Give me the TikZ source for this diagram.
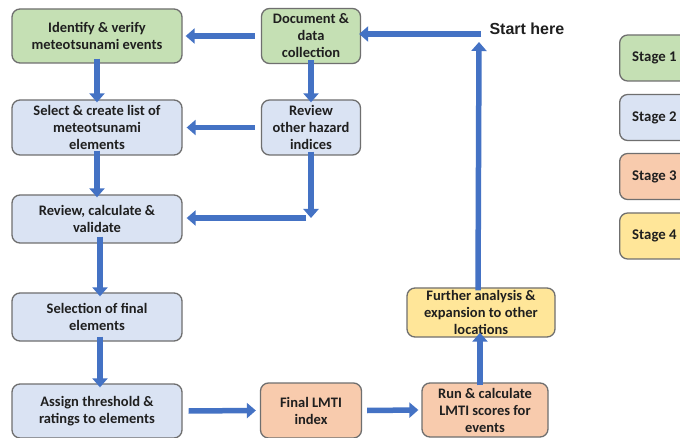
\documentclass[tikz,border=0pt]{standalone}
\usepackage{fontspec}
\setmainfont{Carlito}
\newfontfamily\arialb{Liberation Sans}
\usetikzlibrary{arrows.meta}
\definecolor{arrowblue}{HTML}{4472C4}
\definecolor{fgreen}{HTML}{C5E0B4}
\definecolor{fblue}{HTML}{DAE3F3}
\definecolor{forange}{HTML}{F8CBAD}
\definecolor{fyellow}{HTML}{FFE699}
\definecolor{bordergray}{HTML}{6F6F6F}
\tikzset{
  box/.style={draw=bordergray, line width=1.3pt, rounded corners=8pt, align=center,
    font=\fontsize{14.5}{17}\selectfont\bfseries, text=black!88, inner sep=1pt},
  greenbox/.style={box, fill=fgreen},
  bluebox/.style={box, fill=fblue},
  orangebox/.style={box, fill=forange},
  yellowbox/.style={box, fill=fyellow},
  legendbox/.style={draw=bordergray, line width=1.3pt, rounded corners=8pt,
    minimum width=75pt, minimum height=46pt},
  flow/.style={draw=arrowblue, line width=5.5pt,
    -{Triangle[width=15pt,length=9pt]}, shorten >=0pt}
}
\begin{document}
\begin{tikzpicture}[x=1pt, y=-1pt]
\clip (0,0) rectangle (680,438);
\fill[white] (0,0) rectangle (680,438);
% Stage 1
\node[greenbox, minimum width=170pt, minimum height=54pt] (ident) at (97,36) {Identify \& verify\\meteotsunami events};
\node[greenbox, minimum width=99pt, minimum height=55pt] (doc) at (311,36) {Document \&\\data\\collection};
% Stage 2
\node[bluebox, minimum width=170pt, minimum height=55pt] (select) at (97,127.5) {Select \& create list of\\meteotsunami\\elements};
\node[bluebox, minimum width=99pt, minimum height=55pt] (revother) at (311,127.5) {Review\\other hazard\\indices};
\node[bluebox, minimum width=170pt, minimum height=48pt] (revcalc) at (97,219) {Review, calculate \&\\validate};
\node[bluebox, minimum width=170pt, minimum height=48pt] (selfinal) at (97,317) {Selection of final\\elements};
\node[bluebox, minimum width=170pt, minimum height=54pt] (assign) at (97,411) {Assign threshold \&\\ratings to elements};
% Stage 3
\node[orangebox, minimum width=101pt, minimum height=55pt] (final) at (311,410.5) {Final LMTI\\index};
\node[orangebox, minimum width=126pt, minimum height=54pt] (run) at (485,410) {Run \& calculate\\LMTI scores for\\events};
% Stage 4
\node[yellowbox, minimum width=148pt, minimum height=49pt] (further) at (481,312.5) {Further analysis \&\\expansion to other\\locations};
% Start
\node[font=\arialb\fontsize{16}{18}\selectfont\bfseries, text=black!88, anchor=west] (start) at (486,29) {Start here};
\coordinate (startpt) at (481,34);
\coordinate (toppt) at (479,42);
\coordinate (bend) at (311,218);
\coordinate (bendstart) at (306,218);
% Legend
\node[legendbox, fill=fgreen, anchor=west] (s1) at (619,58) {};
\node[legendbox, fill=fblue, anchor=west] (s2) at (619,117.5) {};
\node[legendbox, fill=forange, anchor=west] (s3) at (619,176.5) {};
\node[legendbox, fill=fyellow, anchor=west] (s4) at (619,236) {};
\foreach \n/\t in {s1/Stage 1, s2/Stage 2, s3/Stage 3, s4/Stage 4}
  \node[font=\fontsize{14.8}{17}\selectfont\bfseries, text=black!88, anchor=west, inner sep=0pt] at ([xshift=13pt]\n.west) {\t};
% Arrows
\draw[flow] (startpt) -- ([xshift=-2pt]doc.east |- startpt);
\draw[flow] ([xshift=-6pt]doc.west) -- ([xshift=3pt]ident.east);
\draw[flow] ([yshift=5pt]ident.south) -- ([yshift=-3pt]select.north);
\draw[flow] ([yshift=4pt]doc.south) -- ([yshift=-3pt]revother.north);
\draw[flow] ([xshift=-6pt]revother.west) -- ([xshift=4pt]select.east);
\draw[flow] ([yshift=4pt]revother.south) -- (bend);
\draw[flow] (bendstart) -- ([xshift=4pt]revcalc.east |- bendstart);
\draw[flow] ([yshift=5pt]select.south) -- ([yshift=-3pt]revcalc.north);
\draw[flow] ([xshift=3pt,yshift=7pt]revcalc.south) -- ([xshift=3pt,yshift=-4pt]selfinal.north);
\draw[flow] ([xshift=3pt,yshift=5pt]selfinal.south) -- ([xshift=3pt,yshift=-4pt]assign.north);
\draw[flow] ([xshift=6pt]assign.east) -- ([xshift=-4pt]final.west);
\draw[flow] ([xshift=5pt]final.east) -- ([xshift=-3pt]run.west);
\draw[flow] ([xshift=-5pt,yshift=-3pt]run.north) -- ([xshift=-1pt,yshift=5pt]further.south);
\draw[flow] ([xshift=-3pt,yshift=-3pt]further.north) -- (toppt);
\end{tikzpicture}
\end{document}
